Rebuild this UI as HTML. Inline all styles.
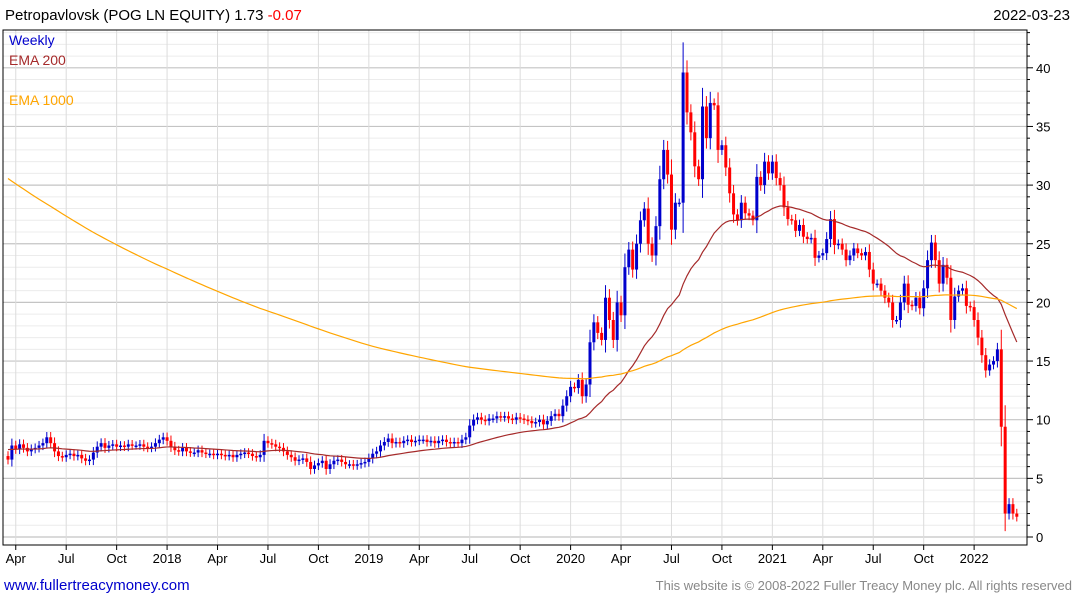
<!DOCTYPE html>
<html><head><meta charset="utf-8"><style>
body{margin:0;background:#fff;font-family:"Liberation Sans",sans-serif}
svg text{font-family:"Liberation Sans",sans-serif}
</style></head><body>
<svg id="chart" width="1075" height="600" viewBox="0 0 1075 600" xmlns="http://www.w3.org/2000/svg">
<rect width="1075" height="600" fill="#fff"/>
<g id="grid"></g>
<g id="candles"></g>
<g id="emas"></g>
<rect x="3" y="30" width="1024" height="515" fill="none" stroke="#000" stroke-width="1"/>
<g id="axes"></g>
<text x="5" y="20" font-size="15" fill="#000">Petropavlovsk (POG LN EQUITY) 1.73 <tspan fill="#ff0000">-0.07</tspan></text>
<text x="1070" y="20" font-size="15" text-anchor="end" fill="#000">2022-03-23</text>
<text x="9" y="45" font-size="14" fill="#0000cc">Weekly</text>
<text x="9" y="65" font-size="14" fill="#a52a2a">EMA 200</text>
<text x="9" y="105" font-size="14" fill="#ffa500">EMA 1000</text>
<text x="4" y="590" font-size="15" fill="#0000cc">www.fullertreacymoney.com</text>
<text x="1072" y="590" font-size="13" text-anchor="end" fill="#888">This website is © 2008-2022 Fuller Treacy Money plc. All rights reserved</text>
</svg>
<script>
const closes = [
6.6,7.8,7.5,
7.9,7.6,7.3,7.5,7.6,7.8,8.0,8.5,8.0,7.3,6.9,6.8,7.0,
7.1,6.9,7.0,6.7,6.5,6.6,7.2,7.7,8.0,7.6,7.8,7.9,7.7,
7.8,7.7,7.9,7.8,7.8,7.9,7.7,7.6,7.7,8.0,8.3,8.5,8.2,
7.7,7.4,7.3,7.6,7.3,7.2,7.2,7.4,7.2,7.1,7.1,7.0,7.1,
7.0,6.9,7.0,6.8,7.0,7.1,7.2,7.1,6.9,6.8,7.0,8.2,8.0,
7.9,7.7,7.6,7.3,7.0,6.8,6.5,6.6,6.7,6.4,5.8,6.1,6.3,
6.5,5.8,6.2,6.5,6.6,6.4,6.2,6.2,6.1,6.2,6.3,6.4,6.7,
7.1,7.3,7.8,8.1,8.4,8.0,8.1,8.0,8.2,8.3,8.1,8.2,8.3,
8.3,8.1,8.2,8.0,8.2,8.3,8.1,8.0,8.1,8.0,8.3,8.5,9.5,
10.0,10.2,10.0,9.9,10.1,10.1,10.3,10.2,10.3,10.1,10.0,10.2,10.1,
10.0,9.9,9.7,9.8,10.0,9.6,9.9,10.3,10.5,10.3,11.2,12.0,12.8,
12.7,13.4,12.0,13.0,16.6,18.3,17.4,16.8,20.4,18.5,16.8,20.0,18.9,
23.0,24.5,22.8,25.0,27.0,28.0,25.0,24.0,26.5,30.5,33.0,30.9,26.2,
28.5,28.5,39.6,36.2,34.5,31.6,30.5,36.7,34.0,37.0,36.8,33.0,33.4,
31.5,29.3,27.5,27.0,28.5,27.6,27.4,27.0,30.7,30.0,32.0,31.0,32.0,
30.6,30.0,28.1,27.1,27.0,26.1,26.6,25.6,25.4,25.5,23.8,24.0,24.2,
25.4,27.1,24.9,25.0,24.5,23.6,24.0,24.6,24.2,24.0,24.3,22.8,21.6,
21.6,21.0,20.4,20.0,18.5,18.5,20.0,21.6,19.8,19.7,20.4,19.5,21.2,
23.6,25.1,23.6,21.6,23.2,22.1,18.5,20.5,21.0,21.2,19.7,19.6,18.5,
17.0,15.5,14.2,14.7,15.0,16.0,9.4,2.0,2.8,2.0,1.73
];
const firstOpen = 6.9;
const ema200Seed = 7.5;
const ema1000Seed = 30.8;
const xTickLabels = ["Apr","Jul","Oct","2018","Apr","Jul","Oct","2019","Apr","Jul","Oct","2020","Apr","Jul","Oct","2021","Apr","Jul","Oct","2022"];
const xTickWeeks = [2,15,28,41,54,67,80,93,106,119,132,145,158,171,184,197,210,223,236,249];
const yTicks = [0,5,10,15,20,25,30,35,40];

const NS="http://www.w3.org/2000/svg";
const X = i => 8 + 3.88*i;
const Y = v => 537 - 11.73*v;
function mk(tag, attrs, parent){const e=document.createElementNS(NS,tag);for(const k in attrs)e.setAttribute(k,attrs[k]);parent.appendChild(e);return e;}
const grid=document.getElementById('grid'), cg=document.getElementById('candles'), eg=document.getElementById('emas'), ax=document.getElementById('axes');

for(let v=0; v<=43; v++){
  const major = v%5===0;
  const l=mk('line',{x1:3,x2:1027,y1:Y(v),y2:Y(v),stroke:major?'#c4c4c4':'#ececec','stroke-width':major?1.2:1},grid);
  
  
  const t=mk('line',{x1:1027,x2:major?1033:1030,y1:Y(v),y2:Y(v),stroke:'#000'},ax);
  
  
}
yTicks.forEach(v=>{
  const t=mk('text',{x:1036,y:Y(v)+5,'font-size':13,fill:'#000'},ax);
  t.textContent=v;
  
  
});
xTickWeeks.forEach((w,k)=>{
  const x=X(w);
  const g=mk('line',{x1:x,x2:x,y1:30,y2:545,stroke:'#dcdcdc'},grid);
  
  
  const tk=mk('line',{x1:x,x2:x,y1:545,y2:550,stroke:'#000'},ax);
  
  
  const t=mk('text',{x:x,y:563,'font-size':13,'text-anchor':'middle',fill:'#000'},ax);
  t.textContent=xTickLabels[k];
  
  
});

let prev=firstOpen;
closes.forEach((c,i)=>{
  const o=prev, up=c>=o, col=up?'#0000cc':'#ff0000';
  const hi=Math.max(o,c), lo=Math.min(o,c), ext=(hi-lo)*0.2+0.35;
  const x=X(i);
  const w=mk('line',{x1:x,x2:x,y1:Y(hi+ext),y2:Y(Math.max(0.5,lo-ext)),stroke:col,'stroke-width':1},cg);
  
  
  const top=Y(hi), h=Math.max(1.5,Y(lo)-Y(hi));
  const b=mk('rect',{x:x-1.5,y:top,width:3,height:h,fill:col},cg);
  
  
  prev=c;
});

function ema(seed, period){const a=2/(period+1);let e=seed;return closes.map(c=>{e=e+a*(c-e);return e;});}
const e200=ema(ema200Seed,40), e1000=ema(ema1000Seed,200);
const p1=mk('polyline',{points:e200.map((v,i)=>X(i)+','+Y(v)).join(' '),fill:'none',stroke:'#a52a2a','stroke-width':1.2},eg);


const p2=mk('polyline',{points:e1000.map((v,i)=>X(i)+','+Y(v)).join(' '),fill:'none',stroke:'#ffa500','stroke-width':1.2},eg);


</script>
</body></html>
